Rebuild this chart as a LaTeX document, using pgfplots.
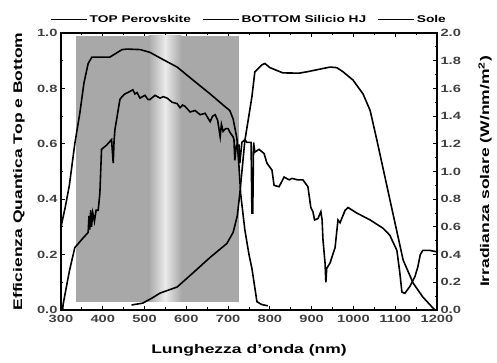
\documentclass[border=0pt]{standalone}
\usepackage{pgfplots}
\pgfplotsset{compat=1.18}
\usepackage{fontspec}
\setmainfont{Liberation Sans Bold}[FakeStretch=1.4]

\pgfplotstableread{
x y
300 0.30
310 0.37
320 0.45
333 0.60
345 0.71
355 0.82
365 0.89
374 0.913
390 0.913
417 0.913
446 0.94
458 0.942
490 0.94
513 0.93
537 0.91
578 0.877
616 0.83
657 0.78
688 0.74
704 0.72
712 0.69
721 0.62
726 0.52
730 0.42
740 0.29
750 0.20
757 0.15
769 0.03
780 0.02
795 0.015
}\toptable

\pgfplotstableread{
x y
469 0.018
496 0.025
520 0.045
537 0.061
578 0.083
616 0.134
657 0.19
697 0.24
712 0.28
722 0.34
728 0.42
740 0.61
757 0.77
764 0.86
781 0.885
788 0.89
800 0.875
831 0.856
870 0.855
889 0.86
944 0.877
960 0.875
975 0.86
999 0.83
1023 0.78
1040 0.72
1056 0.614
1087 0.40
1119 0.18
1143 0.097
1166 0.047
1188 0.011
1195 0.0
}\bottomtable

\pgfplotstableread{
x y
304 0.0
305 0.04
320 0.28
333 0.45
350 0.51
365 0.56
367 0.68
369 0.58
371 0.72
373 0.60
376 0.70
380 0.64
384 0.72
389 0.72
393 0.84
397 1.16
409 1.19
421 1.23
425 1.06
427 1.22
429 1.30
441 1.52
446 1.54
453 1.56
460 1.57
472 1.59
477 1.56
482 1.57
489 1.53
501 1.55
508 1.52
513 1.52
525 1.55
537 1.53
545 1.54
554 1.53
566 1.50
578 1.49
585 1.46
591 1.48
597 1.47
609 1.43
621 1.44
633 1.41
645 1.42
651 1.39
657 1.36
663 1.40
669 1.41
675 1.37
681 1.25
684 1.34
688 1.29
694 1.31
700 1.31
705 1.28
712 1.25
714 1.23
716 1.08
720 1.19
726 1.19
728 1.06
733 1.21
740 1.23
745 1.21
752 1.21
755 1.21
757 0.70
759 0.70
761 1.21
764 1.14
774 1.16
786 1.13
793 1.06
805 1.01
810 0.90
822 0.89
834 0.96
846 0.94
853 0.95
866 0.94
879 0.94
891 0.89
898 0.74
903 0.71
907 0.65
915 0.66
922 0.71
925 0.65
927 0.51
932 0.34
934 0.20
936 0.30
944 0.34
956 0.45
963 0.65
968 0.63
980 0.72
987 0.74
1008 0.70
1040 0.65
1071 0.59
1087 0.54
1104 0.43
1111 0.27
1116 0.13
1123 0.12
1135 0.17
1147 0.24
1154 0.31
1160 0.40
1166 0.43
1183 0.43
1200 0.42
}\soletable

\pgfplotsset{
  common/.style={
    scale only axis, width=376pt, height=277pt,
    at={(0,0)}, anchor=south west,
    xmin=300, xmax=1200,
    tick align=inside,
    major tick length=4pt, minor tick length=2.5pt,
    every tick/.style={black, line width=0.8pt},
    axis line style={line width=1.2pt},
    /pgf/number format/assume math mode=true,
    /pgf/number format/1000 sep={},
    tick label style={font=\fontsize{10.5}{12}\selectfont, text=black!75},
    xticklabel style={yshift=-2pt},
    label style={font=\fontsize{12.5}{14}\selectfont},
  }
}

\begin{document}
\begin{tikzpicture}
\path[use as bounding box] (-61pt,-53pt) rectangle (436pt,310pt);
\begin{axis}[
  common,
  ymin=0, ymax=1,
  xtick={300,400,500,600,700,800,900,1000,1100,1200},
  minor x tick num=1,
  ytick={0,0.2,0.4,0.6,0.8,1.0},
  minor y tick num=1,
  ytick pos=left, xtick pos=both,
  yticklabel style={/pgf/number format/.cd, fixed, fixed zerofill, precision=1},
  ylabel={Efficienza Quantica Top e Bottom},
  xlabel={Lunghezza d'onda (nm)},
  every axis y label/.style={at={(axis description cs:-0.112,0.5)}, rotate=90, anchor=center, font=\fontsize{12.5}{14}\selectfont},
  every axis x label/.style={at={(axis description cs:0.5,-0.145)}, anchor=center, font=\fontsize{12.5}{14}\selectfont},
  legend style={at={(0.5,1)}, anchor=south, yshift=6pt, draw=none, fill=none,
    legend columns=3, font=\fontsize{9.8}{11}\selectfont,
    /tikz/every even column/.style={column sep=9pt},
    inner sep=1pt},
  legend image code/.code={\draw[#1] (0pt,0pt) -- (36pt,0pt);},
]
\addplot[draw=none, fill=black!34, forget plot] coordinates {(335,0.03) (335,0.99) (725,0.99) (725,0.03)};
\addplot[draw=none, left color=black!34, right color=black!8, forget plot] coordinates {(510,0.03) (510,0.99) (549,0.99) (549,0.03)};
\addplot[draw=none, left color=black!8, right color=black!34, forget plot] coordinates {(549,0.03) (549,0.99) (588,0.99) (588,0.03)};
\addplot[black, line width=1.6pt] table {\toptable};
\addlegendentry{TOP Perovskite}
\addplot[black, line width=1.6pt] table {\bottomtable};
\addlegendentry{BOTTOM Silicio HJ}
\addlegendimage{black, line width=1.6pt}
\addlegendentry{Sole}
\end{axis}
\begin{axis}[
  common,
  ymin=0, ymax=2,
  axis x line=none,
  axis y line*=right,
  ytick={0,0.2,0.4,0.6,0.8,1.0,1.2,1.4,1.6,1.8,2.0},
  minor y tick num=1,
  yticklabel style={/pgf/number format/.cd, fixed, fixed zerofill, precision=1},
  ylabel={Irradianza solare (W/nm/m\textsuperscript{2})},
  every axis y label/.style={at={(axis description cs:1.128,0.5)}, rotate=90, anchor=center, font=\fontsize{12.5}{14}\selectfont},
]
\addplot[black, line width=1.6pt] table {\soletable};
\end{axis}
\end{tikzpicture}
\end{document}
